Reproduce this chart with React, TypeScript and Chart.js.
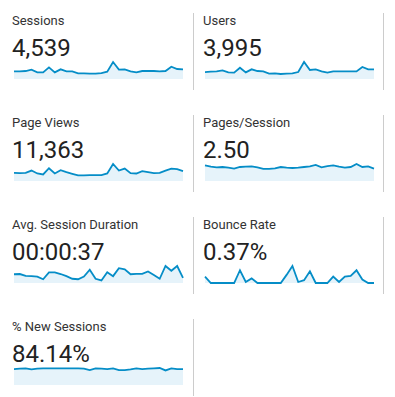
import React, { useEffect, useRef } from "react";
import { Chart, registerables } from "chart.js";

Chart.register(...registerables);

const days: string[] = Array.from({ length: 30 }, (_, i) => `Day ${i + 1}`);

const sessions = [141, 141, 147, 172, 123, 123, 215, 123, 178, 141, 141, 104, 104, 98, 98, 110, 135, 313, 172, 178, 141, 123, 147, 147, 147, 141, 147, 227, 184, 178];
const users = [116, 122, 127, 144, 111, 105, 188, 111, 161, 133, 127, 89, 94, 83, 89, 94, 116, 283, 150, 161, 127, 105, 127, 127, 127, 127, 127, 200, 161, 161];
const pageViews = [349, 335, 349, 446, 321, 279, 544, 321, 460, 376, 307, 237, 237, 251, 251, 251, 321, 725, 446, 530, 335, 321, 418, 376, 335, 349, 446, 530, 502, 418];
const pagesPerSession = [2.87, 2.62, 2.5, 2.56, 2.44, 2.26, 2.56, 2.62, 2.68, 2.5, 2.2, 2.2, 2.32, 2.56, 2.44, 2.38, 2.44, 2.56, 2.68, 2.93, 2.5, 2.74, 2.87, 2.62, 2.44, 2.56, 3.11, 2.56, 2.68, 2.26];
const avgSessionDuration = [37, 38, 30, 29, 27, 16, 45, 45, 38, 29, 18, 16, 27, 56, 18, 11, 46, 29, 63, 58, 37, 39, 39, 49, 34, 18, 72, 52, 72, 22];
const bounceRate = [0.69, 0, 0, 0, 0, 0, 1.38, 0.11, 0.5, 0, 0, 0, 0, 0, 0.88, 1.84, 0.11, 0.31, 1.27, 0, 0, 0, 0.69, 0.11, 0.69, 0.77, 1.38, 0.38, 0, 0];
const newSessions = [82.4, 84.1, 85.9, 80.6, 84.1, 85.9, 85.9, 85.9, 85.9, 85.9, 85.9, 85.9, 84.1, 77.0, 85.9, 84.1, 82.4, 85.9, 77.0, 77.0, 80.6, 85.9, 82.4, 84.1, 85.9, 87.7, 75.2, 85.9, 82.4, 82.4];

const titles = ["Sessions", "Users", "Page Views", "Pages/Session", "Avg. Session Duration", "Bounce Rate", "% New Sessions"];
const totals = ["4,539", "3,995", "11,363", "2.50", "00:00:37", "0.37%", "84.14%"];
const seriesList = [sessions, users, pageViews, pagesPerSession, avgSessionDuration, bounceRate, newSessions];

const LINE = "#058dc7";
const FILL = "#e6f3fa";

function Spark({ data, left, top }: { data: number[]; left: number; top: number }) {
  const ref = useRef<HTMLCanvasElement | null>(null);
  useEffect(() => {
    if (!ref.current) return;
    const chart = new Chart(ref.current, {
      type: "line",
      data: {
        labels: days,
        datasets: [
          {
            data,
            borderColor: LINE,
            backgroundColor: FILL,
            borderWidth: 1.8,
            fill: "start",
            tension: 0,
            pointRadius: 0,
            clip: 4,
          },
        ],
      },
      options: {
        animation: false,
        responsive: false,
        devicePixelRatio: 1,
        layout: { padding: { top: 2, bottom: 1, left: 1, right: 1 } },
        plugins: { legend: { display: false }, tooltip: { enabled: false } },
        scales: {
          x: { display: false, offset: false },
          y: { display: false, min: 0, max: Math.max(...data) },
        },
      },
    });
    return () => chart.destroy();
  }, [data]);
  return (
    <canvas
      ref={ref}
      width={171}
      height={20}
      style={{ position: "absolute", left, top, width: 171, height: 20 }}
    />
  );
}

export default function App() {
  return (
    <div
      style={{
        position: "absolute",
        left: 0,
        top: 0,
        width: 395,
        height: 397,
        background: "#fff",
        overflow: "hidden",
        fontFamily: "Roboto, 'Noto Sans', sans-serif",
      }}
    >
      {titles.map((t, i) => {
        const col = i % 2;
        const row = Math.floor(i / 2);
        const x0 = col === 0 ? 0 : 191;
        const y0 = row * 102;
        return (
          <React.Fragment key={t}>
            <div
              style={{
                position: "absolute",
                left: x0 + 12,
                top: y0 + 14,
                fontSize: 13,
                lineHeight: "13px",
                color: "#333",
                whiteSpace: "nowrap",
              }}
            >
              {t}
            </div>
            <div
              style={{
                position: "absolute",
                left: x0 + 12,
                top: y0 + 36,
                fontSize: 24,
                lineHeight: "24px",
                color: "#222",
                whiteSpace: "nowrap",
              }}
            >
              {totals[i]}
            </div>
            <Spark data={seriesList[i]} left={x0 + 13} top={y0 + 60} />
            <div
              style={{
                position: "absolute",
                left: x0 + 193 - (col === 1 ? 1 : 0),
                top: y0 + 13,
                width: 1,
                height: 77,
                background: "#ccc",
              }}
            />
          </React.Fragment>
        );
      })}
    </div>
  );
}
